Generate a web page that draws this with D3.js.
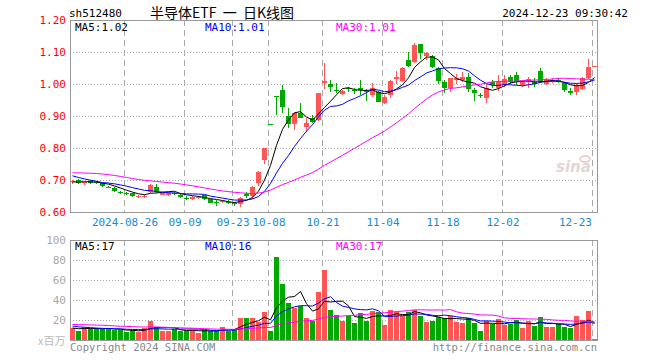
<!DOCTYPE html>
<html>
<head>
<meta charset="utf-8">
<script src="https://cdn.jsdelivr.net/npm/d3@7"></script>
<style>
  body { margin: 0; background: #fff; }
  text { font-family: "DejaVu Sans Mono", monospace; }
</style>
</head>
<body>
<div id="container"></div>
<script>
/* DATA */
const dates = [
  "2024-08-13","2024-08-14","2024-08-15","2024-08-16","2024-08-19","2024-08-20","2024-08-21","2024-08-22","2024-08-23","2024-08-26",
  "2024-08-27","2024-08-28","2024-08-29","2024-08-30","2024-09-02","2024-09-03","2024-09-04","2024-09-05","2024-09-06","2024-09-09",
  "2024-09-10","2024-09-11","2024-09-12","2024-09-13","2024-09-18","2024-09-19","2024-09-20","2024-09-23","2024-09-24","2024-09-25",
  "2024-09-26","2024-09-27","2024-09-30","2024-10-08","2024-10-09","2024-10-10","2024-10-11","2024-10-14","2024-10-15","2024-10-16",
  "2024-10-17","2024-10-18","2024-10-21","2024-10-22","2024-10-23","2024-10-24","2024-10-25","2024-10-28","2024-10-29","2024-10-30",
  "2024-10-31","2024-11-01","2024-11-04","2024-11-05","2024-11-06","2024-11-07","2024-11-08","2024-11-11","2024-11-12","2024-11-13",
  "2024-11-14","2024-11-15","2024-11-18","2024-11-19","2024-11-20","2024-11-21","2024-11-22","2024-11-25","2024-11-26","2024-11-27",
  "2024-11-28","2024-11-29","2024-12-02","2024-12-03","2024-12-04","2024-12-05","2024-12-06","2024-12-09","2024-12-10","2024-12-11",
  "2024-12-12","2024-12-13","2024-12-16","2024-12-17","2024-12-18","2024-12-19","2024-12-20","2024-12-23"
];

const open = [
  0.694,0.700,0.690,0.697,0.693,0.690,0.679,0.676,0.661,0.659,
  0.658,0.649,0.647,0.664,0.679,0.654,0.653,0.659,0.654,0.645,
  0.640,0.644,0.652,0.640,0.631,0.631,0.630,0.629,0.625,0.656,
  0.650,0.690,0.7625,0.8752,0.963,0.981,0.900,0.875,0.910,0.866,
  0.893,0.886,1.004,0.999,0.981,0.970,0.987,0.982,0.987,0.978,
  0.966,0.976,0.941,0.966,1.017,1.009,1.075,1.069,1.125,1.086,
  1.086,1.049,1.005,0.9875,1.0125,1.0125,1.023,0.980,0.966,0.956,
  1.006,0.987,1.000,1.023,1.027,0.997,1.006,1.006,1.042,1.000,
  1.007,1.013,1.002,0.978,0.974,0.984,1.019,1.054
];
const high = [
  0.701,0.702,0.695,0.700,0.697,0.692,0.682,0.678,0.667,0.664,
  0.660,0.654,0.655,0.686,0.688,0.664,0.661,0.664,0.656,0.649,
  0.650,0.650,0.654,0.642,0.637,0.638,0.636,0.632,0.647,0.664,
  0.680,0.728,0.800,0.8752,0.963,0.997,0.924,0.913,0.941,0.893,
  0.903,0.972,1.066,1.0125,1.002,0.981,0.992,0.988,1.012,0.985,
  1.002,0.979,0.966,1.0125,1.040,1.054,1.101,1.128,1.126,1.101,
  1.091,1.054,1.0125,1.020,1.031,1.037,1.034,0.987,0.971,1.000,
  1.0125,1.028,1.028,1.028,1.038,1.0125,1.023,1.018,1.049,1.018,
  1.019,1.018,1.007,0.9875,1.002,1.023,1.077,1.057
];
const low = [
  0.689,0.686,0.684,0.688,0.688,0.678,0.674,0.663,0.655,0.653,
  0.648,0.644,0.645,0.658,0.658,0.652,0.651,0.654,0.644,0.638,
  0.636,0.642,0.638,0.627,0.620,0.627,0.624,0.620,0.617,0.643,
  0.640,0.680,0.749,0.875,0.903,0.910,0.862,0.856,0.893,0.851,
  0.877,0.884,0.984,0.976,0.971,0.966,0.974,0.970,0.966,0.948,
  0.960,0.943,0.937,0.955,1.000,1.006,1.053,1.066,1.079,1.075,
  1.051,0.999,0.971,0.975,1.000,1.006,0.975,0.948,0.955,0.940,
  0.9875,0.978,0.992,1.000,0.997,0.992,0.9875,0.992,1.002,0.997,
  1.003,1.003,0.976,0.967,0.966,0.981,1.016,1.054
];
const close = [
  0.698,0.692,0.694,0.692,0.692,0.680,0.678,0.665,0.660,0.658,
  0.650,0.651,0.651,0.683,0.662,0.662,0.660,0.657,0.646,0.644,
  0.648,0.648,0.640,0.629,0.630,0.633,0.628,0.627,0.645,0.649,
  0.679,0.726,0.799,0.875,0.962,0.929,0.874,0.909,0.895,0.877,
  0.881,0.971,1.009,0.992,0.978,0.978,0.985,0.980,0.981,0.975,
  0.987,0.945,0.960,1.009,1.022,1.051,1.055,1.122,1.096,1.096,
  1.054,1.008,0.987,1.018,1.018,1.023,0.983,0.972,0.961,0.989,
  0.997,1.009,1.016,1.006,1.005,1.005,1.017,1.000,1.009,1.0125,
  1.014,1.007,0.981,0.973,0.998,1.019,1.054,1.056
];
// volume, 百万
const volume = [
  12,9.5,13,11,12,11,11,10,10,8,
  10,8,12,19.5,13,9,9,11,9.5,9,
  10,7,10,9.5,9,13.5,9.5,11,22.5,22.5,
  22.5,18,28.5,9.5,83,56,37,32,34.5,22,
  19,48,70.5,30.5,25.5,19.5,24.5,17,27.5,19.5,
  29,28,15.5,30.5,28.5,24.5,28,30.5,24.5,18,
  19,23.5,22,24.5,18,17,22,17,9.5,19,
  16,21.5,15,16,20,12,19,14.5,23.5,13,
  13,16,13,12,24.5,20.5,29.5,1.5
];
// sessions before the window, only feed the moving averages (estimated)
const prevClose = [
  0.700,0.705,0.712,0.720,0.728,0.735,0.742,0.750,0.755,0.748,
  0.740,0.735,0.728,0.722,0.718,0.715,0.712,0.718,0.725,0.735,
  0.745,0.738,0.732,0.725,0.722,0.692,0.690,0.694,0.695
];
const prevVolume = [
  14,15,18,17,16,19,21,18,16,15,17,16,14,15,17,16,15,17,16,13,
  18,17,15,16,14,13,12,11,12
];

const priceTicks = [0.6, 0.7, 0.8, 0.9, 1.0, 1.1, 1.2];
const volTicks = [20, 40, 60, 80, 100];
const tickDates = ["2024-08-26","2024-09-09","2024-09-23","2024-10-08","2024-10-21","2024-11-04","2024-11-18","2024-12-02","2024-12-23"];
const tickLabels = ["2024-08-26","09-09","09-23","10-08","10-21","11-04","11-18","12-02","12-23"];
const maPeriods = [5, 10, 30];
const maColors = ["#000", "#00f", "#f0f"];
const priceMaLabels = ["1.02", "1.01", "1.01"];
const volMaLabels = ["17", "16", "17"];

/* CONSTANTS */
const width = 660, height = 360;
const left = 70, right = 597;
const pTop = 20, pBottom = 212, vTop = 240, vBottom = 340;
const up = "#ff5555", down = "#00a800";

const data = dates.map((d, i) => ({
  date: d, open: open[i], high: high[i], low: low[i], close: close[i], vol: volume[i]
}));

function movingAvg(prev, vals, n) {
  const all = prev.concat(vals);
  return vals.map((v, i) => d3.mean(all.slice(prev.length + i - n + 1, prev.length + i + 1)));
}

const svg = d3.select("#container")
  .append("svg")
  .attr("width", width)
  .attr("height", height)
  .style("background", "#fff");

/* SCALES */
const xScale = d3.scaleBand()
  .domain(dates)
  .range([left, right])
  .paddingInner(1 / 6)
  .paddingOuter(0);
const bw = xScale.bandwidth();
const cx = d => Math.floor(xScale(d) + bw / 2) + 0.5;

const yScale = d3.scaleLinear().domain([0.6, 1.2]).range([pBottom, pTop]);
const vScale = d3.scaleLinear().domain([0, 100]).range([vBottom, vTop]);

/* HEADER */
svg.append("text").attr("x", 69).attr("y", 17).attr("font-size", 11).text("sh512480");
svg.append("text").attr("x", 150).attr("y", 18)
  .style("font-family", "'Noto Sans CJK SC', sans-serif")
  .style("white-space", "pre")
  .attr("font-size", 14).text("半导体ETF  一  日K线图");
svg.append("text").attr("x", 628).attr("y", 17).attr("font-size", 11)
  .attr("text-anchor", "end").text("2024-12-23 09:30:42");

/* GRID */
function panelGrid(top, bottom, yTicks, ys) {
  const g = svg.append("g");
  g.selectAll(".hg").data(yTicks.filter(t => ys(t) > top + 1 && ys(t) < bottom - 1))
    .join("line")
    .attr("x1", left).attr("x2", right)
    .attr("y1", d => Math.round(ys(d)) + 0.5).attr("y2", d => Math.round(ys(d)) + 0.5)
    .attr("stroke", "#aaa").attr("stroke-dasharray", "1,2");
  g.selectAll(".vg").data(tickDates)
    .join("line")
    .attr("x1", d => xScale(d) + 0.5).attr("x2", d => xScale(d) + 0.5)
    .attr("y1", top).attr("y2", bottom)
    .attr("stroke", "#aaa").attr("stroke-dasharray", "6,4");
  g.append("rect")
    .attr("x", left + 0.5).attr("y", top + 0.5)
    .attr("width", right - left).attr("height", bottom - top)
    .attr("fill", "none").attr("stroke", "#999");
}
panelGrid(pTop, pBottom, priceTicks, yScale);
panelGrid(vTop, vBottom, volTicks, vScale);

/* AXES LABELS */
svg.append("g").selectAll("text").data(priceTicks).join("text")
  .attr("x", 66).attr("y", d => yScale(d) + 4)
  .attr("text-anchor", "end").attr("font-size", 11).attr("fill", "#f00")
  .text(d => d3.format(".2f")(d));

svg.append("g").selectAll("text").data(volTicks).join("text")
  .attr("x", 66).attr("y", d => vScale(d) + 4)
  .attr("text-anchor", "end").attr("font-size", 11).attr("fill", "#aaa")
  .text(d => d);
svg.append("text").attr("x", 38).attr("y", 345).attr("font-size", 11).attr("fill", "#bbb")
  .style("font-family", "'Noto Sans CJK SC', sans-serif").text("x百万");

svg.append("g").selectAll("text").data(tickDates).join("text")
  .attr("x", (d, i) => i === tickDates.length - 1 ? xScale(d) : xScale(d) + 1)
  .attr("y", 226)
  .attr("text-anchor", (d, i) => i === tickDates.length - 1 ? "end" : "middle")
  .attr("font-size", 11).attr("fill", "#1a8ad4")
  .text((d, i) => tickLabels[i]);

/* WATERMARK */
svg.append("text").attr("x", 556).attr("y", 172)
  .style("font-family", "'DejaVu Sans', sans-serif").style("font-style", "italic")
  .attr("font-size", 15).attr("font-weight", "bold").attr("fill", "#e2d6d6")
  .text("sina");
svg.append("ellipse").attr("cx", 585).attr("cy", 159).attr("rx", 5).attr("ry", 3)
  .attr("fill", "none").attr("stroke", "#eac4c4").attr("stroke-width", 1.5);

/* CANDLES */
const isUp = d => d.close >= d.open;
const candles = svg.append("g").attr("shape-rendering", "crispEdges");
candles.selectAll(".wick").data(data).join("line")
  .attr("x1", d => cx(d.date)).attr("x2", d => cx(d.date))
  .attr("y1", d => yScale(d.high)).attr("y2", d => yScale(d.low))
  .attr("stroke", d => isUp(d) ? up : down);
candles.selectAll(".body").data(data).join("rect")
  .attr("x", d => xScale(d.date))
  .attr("width", bw)
  .attr("y", d => Math.min(yScale(d.open), yScale(d.close)))
  .attr("height", d => Math.max(1, Math.abs(yScale(d.open) - yScale(d.close))))
  .attr("fill", d => isUp(d) ? up : down);

/* VOLUME */
svg.append("g").attr("shape-rendering", "crispEdges")
  .selectAll("rect").data(data).join("rect")
  .attr("x", d => xScale(d.date))
  .attr("width", bw)
  .attr("y", d => vScale(d.vol))
  .attr("height", d => vBottom - vScale(d.vol))
  .attr("fill", d => isUp(d) ? up : down);

/* MOVING AVERAGES */
maPeriods.forEach((n, k) => {
  const pm = movingAvg(prevClose, close, n);
  svg.append("path").datum(pm)
    .attr("fill", "none").attr("stroke", maColors[k]).attr("stroke-width", 1)
    .attr("d", d3.line().x((v, i) => cx(dates[i])).y(v => yScale(v)));
  const vm = movingAvg(prevVolume, volume, n);
  svg.append("path").datum(vm)
    .attr("fill", "none").attr("stroke", maColors[k]).attr("stroke-width", 1)
    .attr("d", d3.line().x((v, i) => cx(dates[i])).y(v => vScale(v)));
});

/* LEGENDS */
const legendX = [75, 205, 336];
maPeriods.forEach((n, k) => {
  svg.append("text").attr("x", legendX[k]).attr("y", 31).attr("font-size", 11)
    .attr("fill", maColors[k]).text(`MA${n}:${priceMaLabels[k]}`);
  svg.append("text").attr("x", legendX[k]).attr("y", 250).attr("font-size", 11)
    .attr("fill", maColors[k]).text(`MA${n}:${volMaLabels[k]}`);
});

/* FOOTER */
svg.append("text").attr("x", 70).attr("y", 351).attr("font-size", 10.5).attr("fill", "#888")
  .text("Copyright 2024 SINA.COM");
svg.append("text").attr("x", 597).attr("y", 351).attr("font-size", 10.5).attr("fill", "#888")
  .attr("text-anchor", "end").text("http://finance.sina.com.cn");
</script>
</body>
</html>
